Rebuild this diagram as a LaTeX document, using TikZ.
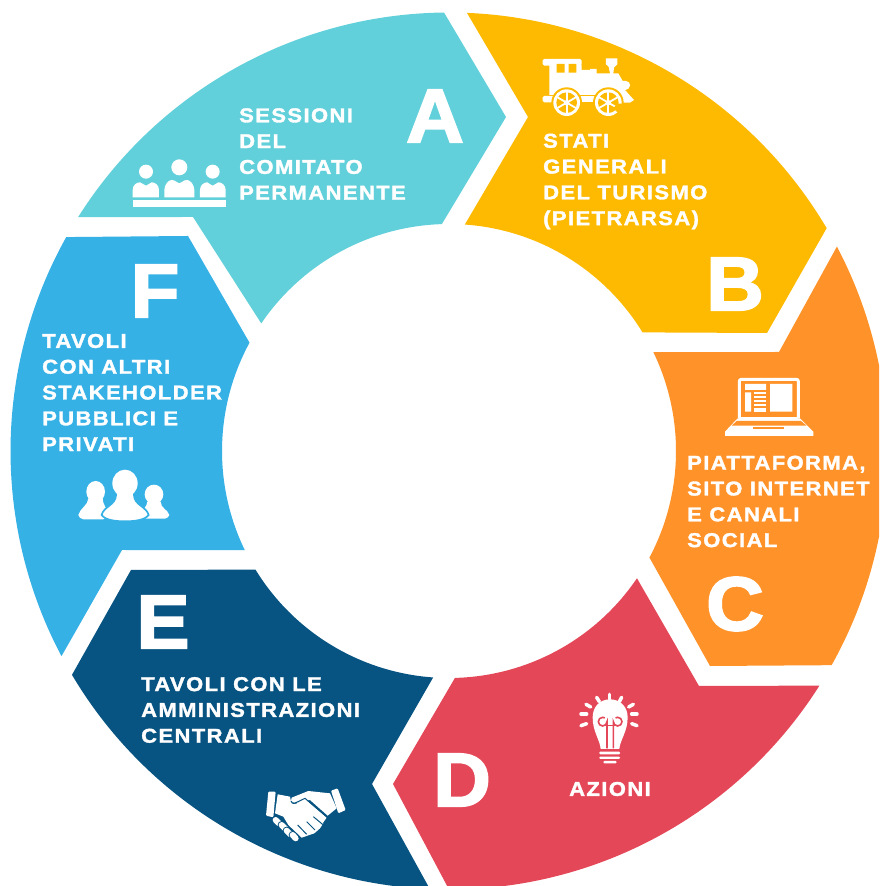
\documentclass[tikz,border=0pt]{standalone}
\usepackage{fontspec}
\setmainfont{Liberation Sans}
\newfontfamily\lab[LetterSpace=7,FakeStretch=1.1,BoldFeatures={FakeBold=1.6}]{Liberation Sans}
\newfontfamily\biglab[FakeStretch=1.05,BoldFeatures={FakeBold=2.5}]{Liberation Sans}
\definecolor{cA}{HTML}{62D0DA}
\definecolor{cB}{HTML}{FDBA00}
\definecolor{cC}{HTML}{FF932A}
\definecolor{cD}{HTML}{E44858}
\definecolor{cE}{HTML}{075381}
\definecolor{cF}{HTML}{36B1E6}
\newcommand\seg[7]{\fill[#1] ([shift={(449,435)}]#2:438.5) #6 -- ([shift={(449,435)}]#4:227) arc[start angle=#4,end angle=#5,radius=227] #7 -- ([shift={(449,435)}]#3:438.5) arc[start angle=#3,end angle=#2,radius=438.5] -- cycle;}
\tikzset{
  txt/.style={text=white,anchor=west,align=left,inner sep=0pt,font=\lab\bfseries\fontsize{20}{25.8}\selectfont},
  big/.style={text=white,inner sep=0pt,font=\biglab\bfseries\fontsize{76}{76}\selectfont},
  ic/.style={fill=white,draw=none},
}
\begin{document}
\begin{tikzpicture}[x=1pt,y=1pt]
\useasboundingbox (0,0) rectangle (879,886);
\clip (0,0) rectangle (879,886);
\seg{cA}{90.65}{147.76}{91.8}{145.8}{-- (506,769)}{-- (193,669)}
\seg{cB}{87.65}{30.54}{86}{31.5}{-- (528,769)}{-- (767,553)}
\seg{cC}{27.79}{-29.24}{25.8}{-28}{-- (779,534)}{-- (710,220)}
\seg{cD}{-32.35}{-90}{-34.1}{-88.5}{-- (699,200)}{-- (393,102)}
\seg{cE}{-92.5}{-149.3}{-94}{-148.5}{-- (372,102)}{-- (131,316)}
\seg{cF}{207.9}{150.8}{205.9}{151.5}{-- (122,336)}{-- (188,650)}
\begin{scope}[yshift=886pt,x=1pt,y=-1pt]
\node[big] (la) at (435,116) {A};
\node[big] (lb) at (735,284) {B};
\node[big] (lc) at (735,604) {C};
\node[big] (ld) at (462,780) {D};
\node[big] (le) at (163,622) {E};
\node[big] (lf) at (155,291) {F};
\node[txt] (ta) at (239,154) {SESSIONI\\DEL\\COMITATO\\PERMANENTE};
\node[txt] (tb) at (543,181.5) {STATI\\GENERALI\\DEL TURISMO\\(PIETRARSA)};
\node[txt] (tc) at (687,501.5) {PIATTAFORMA,\\SITO INTERNET\\E CANALI\\SOCIAL};
\node[txt] (td) at (569,789) {AZIONI};
\node[txt] (te) at (141,710) {TAVOLI CON LE\\AMMINISTRAZIONI\\CENTRALI};
\node[txt] (tf) at (42,392.5) {TAVOLI\\CON ALTRI\\STAKEHOLDER\\PUBBLICI E\\PRIVATI};
% train
\begin{scope}[shift={(530,45)},x=.3333pt,y=-.3333pt]
\fill[white,rounded corners=1.5pt] (38,42) rectangle (155,62);
\fill[white] (58,60) -- (155,60) -- (155,75) -- (180,75) -- (180,72) -- (200,72) -- (200,85) -- (240,85) -- (236,65) -- (228,58) -- (228,40) -- (262,40) -- (262,58) -- (252,68) -- (250,85) -- (265,85) -- (278,108) -- (288,108) .. controls (305,110) and (305,132) .. (285,135) -- (312,165) -- (300,173) -- (262,173) -- (240,150) -- (58,150) -- cycle;
\fill[cB] (80,57) rectangle (104,83) (116,57) rectangle (139,83);
\fill[white,rounded corners=1.5pt] (38,153) rectangle (80,172);
\fill[white] (140,153) rectangle (205,172);
\foreach \cx in {110,235}{
  \fill[cB] (\cx,173) circle[radius=46];
  \fill[white] (\cx,173) circle[radius=40];
  \fill[cB] (\cx,173) circle[radius=31];
  \foreach \a in {0,60,...,300}{\draw[white,line width=1.8pt] (\cx,173) -- ++(\a+30:32);}
  \fill[white] (\cx,173) circle[radius=8];
}
\fill[cB] (262,176) -- (285,176) -- (270,210) -- (250,190) -- cycle;
\end{scope}
% laptop
\begin{scope}[shift={(715,365)},x=.3333pt,y=-.3333pt]
\draw[white,line width=3pt,rounded corners=2pt] (73,160) -- (73,43) -- (250,43) -- (250,160);
\fill[white] (73,155) rectangle (250,161);
\fill[white] (90,57) rectangle (153,75) (90,82) rectangle (108,140) (165,57) rectangle (232,140);
\foreach \yy in {80,92,104,116,128,136}{\fill[white] (118,\yy) rectangle (152,\yy+6);}
\fill[white] (68,160) -- (255,160) -- (295,200) -- (295,213) -- (30,213) -- (30,200) -- cycle;
\fill[cC] (65,168) -- (258,168) -- (275,182) -- (50,182) -- cycle;
\fill[cC] (115,186) rectangle (207,192);
\end{scope}
% bulb
\begin{scope}[shift={(565,685)},x=.3333pt,y=-.3333pt]
\fill[white] (107,192) .. controls (105,165) and (83,140) .. (83,97) .. controls (83,62) and (108,43) .. (135,43) .. controls (162,43) and (188,62) .. (188,97) .. controls (188,140) and (165,165) .. (163,192) -- cycle;
\draw[cD,line width=1.6pt] (126,190) -- (126,110) arc[start angle=0,end angle=300,radius=13];
\draw[cD,line width=1.6pt] (145,190) -- (145,110) arc[start angle=180,end angle=-120,radius=13];
\draw[cD,line width=1.6pt] (110,121) -- (160,121);
\fill[white,rounded corners=1pt] (103,200) rectangle (165,208) (103,215) rectangle (165,222) (115,228) rectangle (155,235);
\foreach \p/\q in {{(133,28)}/{(133,43)},{(95,37)}/{(103,50)},{(170,37)}/{(163,50)},{(63,58)}/{(77,66)},{(205,58)}/{(191,66)},{(48,87)}/{(65,87)},{(216,87)}/{(200,87)},{(48,122)}/{(65,116)},{(216,122)}/{(200,116)}}
  \draw[white,line width=3.5pt,line cap=round] \p -- \q;
\end{scope}
% handshake
\begin{scope}[shift={(255,775)},x=.3333pt,y=-.3333pt]
\fill[white,rounded corners=1pt] (40,50) -- (62,50) -- (55,127) -- (33,122) -- cycle;
\fill[white,rounded corners=1pt] (228,47) -- (248,40) -- (272,105) -- (250,115) -- cycle;
\fill[white] (68,58) -- (105,65) -- (108,80) -- (120,88) -- (150,72) -- (215,128) -- (203,145) -- (190,133) -- (205,145) -- (195,160) -- (178,175) -- (140,188) -- (100,150) -- (85,125) -- (60,115) -- cycle;
\fill[white] (110,68) -- (160,48) -- (225,55) -- (245,100) -- (218,122) -- (165,75) -- (120,85) -- (108,78) -- cycle;
\draw[cE,line width=1pt] (108,78) .. controls (112,88) and (118,86) .. (125,82) -- (150,70) -- (218,128);
\foreach \p/\q in {{(62,135)}/{(72,145)},{(80,150)}/{(92,162)},{(95,167)}/{(106,178)},{(113,180)}/{(122,190)}}{
  \draw[cE,line width=8pt,line cap=round] \p -- \q;
  \draw[white,line width=6pt,line cap=round] \p -- \q;
}
\draw[cE,line width=1pt] (128,150) -- (155,178) (155,140) -- (180,165) (175,125) -- (205,150);
\end{scope}
% people F
\begin{scope}[shift={(70,460)},x=.3333pt,y=-.3333pt]
\fill[white] (77,95) ellipse[x radius=28,y radius=32];
\fill[white] (25,165) .. controls (30,145) and (55,135) .. (55,115) -- (98,115) .. controls (98,135) and (110,140) .. (115,165) -- (100,178) -- (40,178) .. controls (32,176) and (26,172) .. (25,165) -- cycle;
\fill[white] (252,103) ellipse[x radius=28,y radius=29];
\fill[white] (298,165) .. controls (293,148) and (272,145) .. (272,125) -- (232,125) .. controls (232,140) and (215,150) .. (210,165) -- (228,176) -- (285,176) .. controls (292,174) and (297,170) .. (298,165) -- cycle;
\path[fill=white,draw=cF,line width=1.7pt] (95,165) .. controls (100,140) and (138,135) .. (138,105) -- (192,105) .. controls (192,135) and (230,140) .. (236,165) .. controls (225,180) and (195,184) .. (165,184) .. controls (135,184) and (105,180) .. (95,165) -- cycle;
\fill[white] (165,70) ellipse[x radius=38,y radius=41];
\fill[white] (140,100) rectangle (190,125);
\end{scope}
% people A
\begin{scope}[shift={(125,150)},x=.3333pt,y=-.3333pt]
\fill[white] (63,65) circle[radius=21] (163,52) circle[radius=24] (263,65) circle[radius=21];
\foreach \l/\m/\r/\t in {23/63/102/97,118/163/208/90,225/263/302/97}{
  \fill[white] (\l,142) -- (\l,120) .. controls (\l,105) and (\l+12,\t) .. (\l+22,\t) .. controls (\m-10,\t) and (\m-8,\t+10) .. (\m,\t+10) .. controls (\m+8,\t+10) and (\m+10,\t) .. (\r-22,\t) .. controls (\r-12,\t) and (\r,105) .. (\r,120) -- (\r,142) -- cycle;
}
\fill[white] (23,150) rectangle (302,172);
\end{scope}
\end{scope}
\end{tikzpicture}
\end{document}
